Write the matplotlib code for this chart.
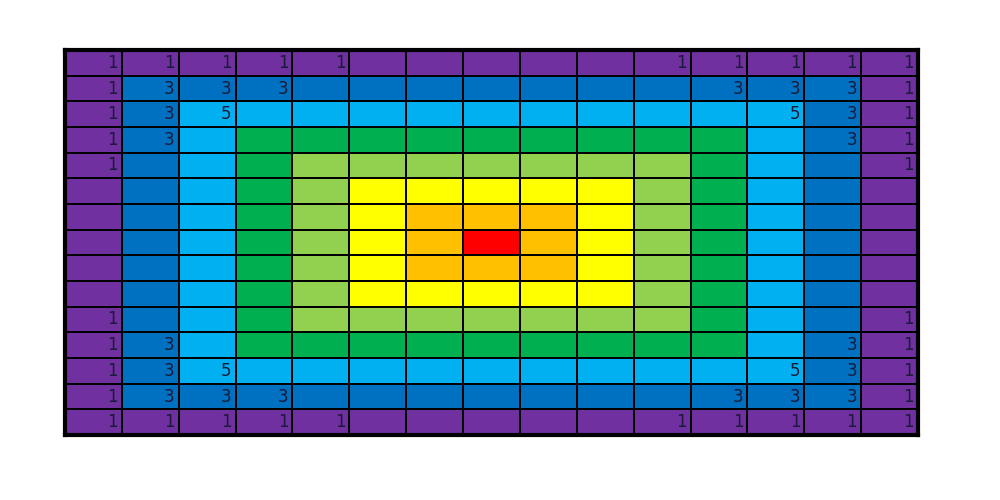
import matplotlib.pyplot as plt
import numpy as np
from matplotlib.colors import ListedColormap

# ring level of every cell, row by row (0 = outer ring, 7 = centre)
levels = [
    "000000000000000",
    "011111111111110",
    "012222222222210",
    "012333333333210",
    "012344444443210",
    "012345555543210",
    "012345666543210",
    "012345676543210",
    "012345666543210",
    "012345555543210",
    "012344444443210",
    "012333333333210",
    "012222222222210",
    "011111111111110",
    "000000000000000",
]

# numbers written in the cells ('.' = empty)
labels = [
    "11111.....11111",
    "1333.......3331",
    "135.........531",
    "13...........31",
    "1.............1",
    "...............",
    "...............",
    "...............",
    "...............",
    "...............",
    "1.............1",
    "13...........31",
    "135.........531",
    "1333.......3331",
    "11111.....11111",
]

ring_colors = ['#7030A0', '#0070C0', '#00B0F0', '#00B050',
               '#92D050', '#FFFF00', '#FFC000', '#FF0000']

grid = np.array([[int(ch) for ch in row] for row in levels])
nrows, ncols = grid.shape

fig = plt.figure(figsize=(10, 5), dpi=100)
ax = fig.add_axes([0.065, 0.13, 0.853, 0.77])

ax.pcolormesh(np.arange(ncols + 1), np.arange(nrows + 1), grid,
              cmap=ListedColormap(ring_colors), vmin=-0.5, vmax=7.5,
              edgecolors='black', linewidth=1.3)

for r, row in enumerate(labels):
    for c, ch in enumerate(row):
        if ch != '.':
            ax.text(c + 0.93, r + 0.5, ch, ha='right', va='center',
                    fontsize=12, color='#1a1a3a')

ax.set_xlim(0, ncols)
ax.set_ylim(nrows, 0)
ax.set_xticks([])
ax.set_yticks([])
for spine in ax.spines.values():
    spine.set_linewidth(3)
    spine.set_color('black')

fig.savefig('out.png', dpi=100)
